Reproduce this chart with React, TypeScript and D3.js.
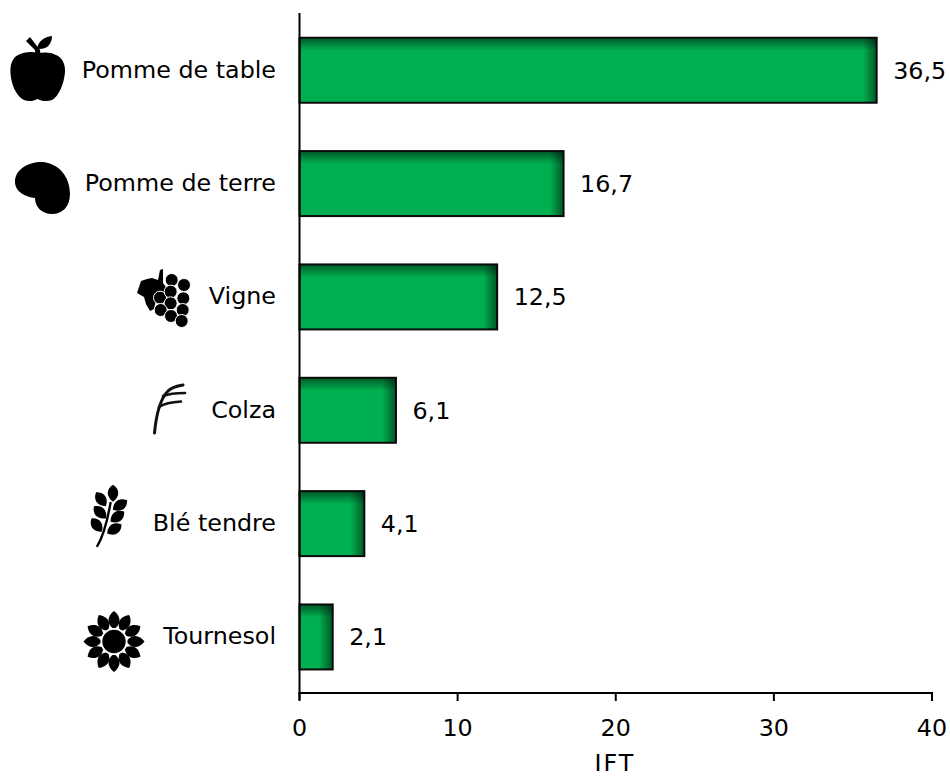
import React from "react";
import * as d3 from "d3";

const categories = ["Pomme de table", "Pomme de terre", "Vigne", "Colza", "Blé tendre", "Tournesol"];
const values = [36.5, 16.7, 12.5, 6.1, 4.1, 2.1];
const valueLabels = ["36,5", "16,7", "12,5", "6,1", "4,1", "2,1"];
const xTicks = [0, 10, 20, 30, 40];
const axisTitle = "IFT";

const W = 950, H = 777;
const FONT = "'DejaVu Sans', Verdana, sans-serif";
const FS = 23.8;

const x = d3.scaleLinear().domain([0, 40]).range([299.5, 932]);
const y = d3.scaleBand().domain(categories).range([13.6, 693.6]).paddingInner(0.4265).paddingOuter(0.213);

const grapeCentres: [number, number][] = [[305,90],[342,105],[270,143],[302,125],[340,145],[302,160],[272,180],[338,180],[303,198],[335,213]];
const wheatLeaves: [number, number, number][] = [[129,70,0],[93,88,-35],[150,105,57],[90,127,-45],[142,140,53],[80,165,-37],[133,177,58]];

function Icons() {
  const sunPetals = d3.range(12).map((i) => i * 30);
  return (
    <g fill="#000" stroke="none">
      {/* apple */}
      <path d="M38 53 C31 51 24 52 18 55 C12 58 10 65 10.500 73 C11 84 16 96 24 100 C29 102 34 101 37.500 99 C41 101 47 102 52 100 C59 96 64 84 65 72 C65.500 64 62 57 56 55 C51 52 45 52 38 53 Z" />
      <path d="M26 41 L30 37 L40 50 L40.500 55 L35.500 55 L35 50 Z" />
      <path d="M37 49 C38 41 44 37 52 36 C52 43 48 50 37 49 Z" />
      {/* potato */}
      <path d="M15 182 C15 170 27 162 42 162 C58 163 70 176 70 194 C70 207 62 214 52 214 C42 214 35 207 35 198 C26 197 15 192 15 182 Z" />
      {/* grapes */}
      <path d="M137 293 L141 281 L147 279 L152 278 L158 280 L160 270 L163 269 L163 283 L168 290 L156 300 L154 309 L150 311 L146 304 L144 297 Z" />
      {grapeCentres.map(([cx, cy], i) => (
        <circle key={i} cx={70 + cx / 3} cy={250 + cy / 3} r={6.5} stroke="#fff" strokeWidth={1} />
      ))}
      {/* colza */}
      <g fill="none" stroke="#111" strokeLinecap="round">
        <path d="M154.500 433 C156 417 159 400 168 391 C172 387 177 386 183 385" strokeWidth={3} />
        <path d="M163 396 C168 394 175 393 185 393" strokeWidth={2.6} />
        <path d="M159 407 C165 403 172 402 181 401.500" strokeWidth={2.6} />
      </g>
      {/* wheat */}
      <path d="M97.300 546 C104 535 107.500 520 110.500 503" fill="none" stroke="#000" strokeWidth={2.4} strokeLinecap="round" />
      {wheatLeaves.map(([cx, cy, r], i) => (
        <path key={i} d="M0 -8.500 C7 -4 7 3.500 0 8.500 C-7 3.500 -7 -4 0 -8.500 Z" transform={`translate(${70 + cx / 3} ${470 + cy / 3}) rotate(${r})`} />
      ))}
      {/* sunflower */}
      <circle cx={114} cy={641.500} r={11.700} />
      {sunPetals.map((a) => (
        <path key={a} transform={`translate(114 641.500) rotate(${a})`} d="M0 -30.500 C6 -26 8 -19 1.500 -13.500 L-1.500 -13.500 C-8 -19 -6 -26 0 -30.500 Z" />
      ))}
    </g>
  );
}

export default function App() {
  const base = x(0);
  return (
    <svg width={W} height={H} style={{ position: "absolute", left: 0, top: 0, background: "#fff" }} fontFamily={FONT}>
      <defs>
        <linearGradient id="topShade" x1="0" y1="0" x2="0" y2="1">
          <stop offset="0" stopColor="#000" stopOpacity={0.5} />
          <stop offset="1" stopColor="#000" stopOpacity={0} />
        </linearGradient>
        <linearGradient id="rightShade" x1="0" y1="0" x2="1" y2="0">
          <stop offset="0" stopColor="#000" stopOpacity={0} />
          <stop offset="1" stopColor="#000" stopOpacity={0.5} />
        </linearGradient>
      </defs>
      <Icons />
      {categories.map((c, i) => {
        const by = y(c)!;
        const bh = y.bandwidth();
        const bw = x(values[i]) - base;
        return (
          <g key={c}>
            <rect x={base} y={by} width={bw} height={bh} fill="#00b050" />
            <rect x={base} y={by} width={bw} height={13} fill="url(#topShade)" />
            <rect x={base + bw - 14} y={by} width={14} height={bh} fill="url(#rightShade)" />
            <rect x={base} y={by} width={bw} height={bh} fill="none" stroke="#0a0a0a" strokeWidth={2} />
            <text x={x(values[i]) + 16.5} y={by + bh / 2 + 8.5} fontSize={FS} fill="#000">{valueLabels[i]}</text>
            <text x={276} y={by + bh / 2 + 7.5} fontSize={FS} textAnchor="end" fill="#000">{c}</text>
          </g>
        );
      })}
      <line x1={base} x2={base} y1={13} y2={700} stroke="#000" strokeWidth={2} />
      <line x1={base - 1} x2={x(40) + 1} y1={693} y2={693} stroke="#000" strokeWidth={2} />
      {xTicks.map((t) => (
        <g key={t}>
          <line x1={x(t)} x2={x(t)} y1={693} y2={701} stroke="#000" strokeWidth={2} />
          <text x={x(t)} y={736} fontSize={FS} textAnchor="middle" fill="#000">{t}</text>
        </g>
      ))}
      <text x={615} y={771} fontSize={FS} textAnchor="middle" letterSpacing={2} fill="#000">{axisTitle}</text>
    </svg>
  );
}
